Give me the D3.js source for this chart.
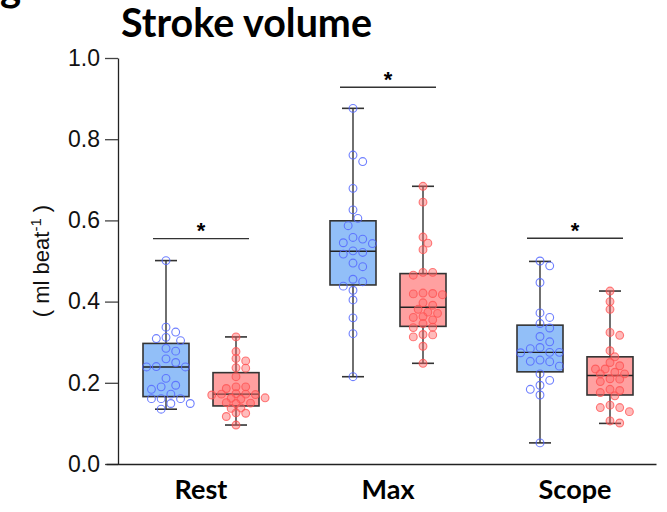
<!DOCTYPE html>
<html>
<head>
<meta charset="utf-8">
<script src="https://cdn.jsdelivr.net/npm/d3@7"></script>
<style>
  html, body { margin: 0; padding: 0; background: #fff; }
  svg { display: block; }
</style>
</head>
<body>
<svg id="chart" width="667" height="512"></svg>
<script>
// ---------------- data ----------------
const categories = ["Rest", "Max", "Scope"];
const seriesNames = ["Group A", "Group B"];
const yTicks = [0.0, 0.2, 0.4, 0.6, 0.8, 1.0];
const titleText = "Stroke volume";
const yLabelText = "( ml beat";
const sigLabels = ["*", "*", "*"];
const sigLevels = [0.555, 0.928, 0.556];

// individual values (Group A = blue, Group B = red)
const restA = [0.501, 0.337, 0.325, 0.312, 0.309, 0.304, 0.285, 0.278, 0.259, 0.239, 0.239, 0.240, 0.250,
  0.211, 0.194, 0.190, 0.184, 0.172, 0.161, 0.161, 0.161, 0.149, 0.149, 0.135];
const restB = [0.313, 0.277, 0.260, 0.254, 0.237, 0.236, 0.215, 0.190, 0.190, 0.186, 0.172, 0.172, 0.171,
  0.173, 0.170, 0.162, 0.163, 0.160, 0.149, 0.150, 0.151, 0.137, 0.138, 0.125, 0.126, 0.117, 0.096];
const maxA = [0.876, 0.761, 0.745, 0.679, 0.626, 0.605, 0.587, 0.554, 0.558, 0.543, 0.545, 0.517, 0.521,
  0.525, 0.495, 0.486, 0.449, 0.455, 0.428, 0.438, 0.404, 0.360, 0.321, 0.215];
const maxB = [0.684, 0.645, 0.559, 0.544, 0.528, 0.472, 0.465, 0.472, 0.419, 0.420, 0.417, 0.421, 0.397,
  0.391, 0.374, 0.381, 0.371, 0.361, 0.355, 0.363, 0.337, 0.346, 0.336, 0.318, 0.319, 0.313, 0.290, 0.248];
const scopeA = [0.500, 0.488, 0.447, 0.372, 0.361, 0.346, 0.335, 0.314, 0.301, 0.284, 0.287, 0.274, 0.275,
  0.275, 0.253, 0.252, 0.256, 0.241, 0.222, 0.206, 0.194, 0.184, 0.170, 0.052];
const scopeB = [0.426, 0.400, 0.381, 0.317, 0.324, 0.279, 0.264, 0.250, 0.242, 0.234, 0.234, 0.226, 0.222,
  0.222, 0.209, 0.210, 0.203, 0.181, 0.184, 0.176, 0.168, 0.145, 0.139, 0.139, 0.129, 0.101, 0.106];

// box statistics per category
const aMin = [0.135, 0.215, 0.052];
const aQ1 = [0.166, 0.441, 0.227];
const aMed = [0.239, 0.524, 0.275];
const aQ3 = [0.297, 0.599, 0.342];
const aMax = [0.501, 0.876, 0.499];
const bMin = [0.096, 0.248, 0.100];
const bQ1 = [0.143, 0.339, 0.170];
const bMed = [0.172, 0.386, 0.218];
const bQ3 = [0.225, 0.469, 0.264];
const bMax = [0.313, 0.684, 0.426];

// ---------------- build ----------------
const pointsA = [restA, maxA, scopeA];
const pointsB = [restB, maxB, scopeB];
const groups = [];
categories.forEach((c, i) => {
  groups.push({cat: c, s: 0, pts: pointsA[i], min: aMin[i], q1: aQ1[i], med: aMed[i], q3: aQ3[i], max: aMax[i]});
  groups.push({cat: c, s: 1, pts: pointsB[i], min: bMin[i], q1: bQ1[i], med: bMed[i], q3: bQ3[i], max: bMax[i]});
});

const svg = d3.select("#chart");
const fontBold = "Lato, 'Open Sans', sans-serif";
const fontAxis = "'Liberation Sans', Arial, sans-serif";

const y = d3.scaleLinear().domain([0, 1]).range([464, 58]);
const x = d3.scalePoint().domain(categories).range([201, 575]);
const xs = d3.scalePoint().domain(seriesNames).range([-35, 35]);
const boxW = 46, capW = 22, r = 3.9;

const style = [
  {box: "#92bff8", pStroke: "rgba(85,105,255,0.85)", pFill: "rgba(255,255,255,0)"},
  {box: "#ffa0a0", pStroke: "rgba(255,80,80,0.75)", pFill: "rgba(255,105,105,0.45)"}
];

// panel letter (cut off at top)
svg.append("text").attr("x", 0).attr("y", 1)
  .attr("font-family", fontBold).attr("font-weight", 700).attr("font-size", 40)
  .text("g");

// title
const title = svg.append("text").attr("x", 121).attr("y", 37)
  .attr("font-family", fontBold).attr("font-weight", 700).attr("font-size", 32)
  .attr("fill", "#000").text(titleText);
{
  const w = title.node().getComputedTextLength();
  title.attr("font-size", 32 * 251 / w);
}

// y axis
const yAxis = svg.append("g").attr("transform", "translate(118,0)")
  .call(d3.axisLeft(y).tickValues(yTicks).tickFormat(d3.format(".1f")).tickSize(13).tickSizeOuter(0).tickPadding(5));
yAxis.select(".domain").attr("stroke", "#222").attr("stroke-width", 1.3);
yAxis.selectAll(".tick line").attr("stroke", "#444").attr("stroke-width", 1.3);
yAxis.selectAll(".tick text").attr("font-family", fontAxis).attr("font-size", 23).attr("fill", "#111");

// x axis line
const xAxis = svg.append("g").attr("transform", "translate(0,464)")
  .call(d3.axisBottom(d3.scaleLinear().domain([0, 1]).range([106, 656])).tickValues([]).tickSizeOuter(0));
xAxis.select(".domain").attr("stroke", "#222").attr("stroke-width", 1.6);

// category labels
svg.selectAll("text.cat").data(categories).join("text").attr("class", "cat")
  .attr("x", d => x(d)).attr("y", 499).attr("text-anchor", "middle")
  .attr("font-family", fontBold).attr("font-weight", 700).attr("font-size", 27)
  .attr("fill", "#000").text(d => d);

// y label
const yl = svg.append("text").attr("transform", `translate(49,${(y(0) + y(1)) / 2}) rotate(-90)`)
  .attr("text-anchor", "middle").attr("font-family", fontAxis).attr("font-size", 22).attr("fill", "#111");
yl.append("tspan").text(yLabelText);
yl.append("tspan").attr("dy", -8).attr("font-size", 15).text("-1");
yl.append("tspan").attr("dy", 8).text(" )");

// boxes
const cx = g => x(g.cat) + xs(seriesNames[g.s]);
const bg = svg.append("g");
groups.forEach(g => {
  const c = cx(g);
  const gg = bg.append("g");
  gg.append("line").attr("x1", c).attr("x2", c).attr("y1", y(g.max)).attr("y2", y(g.min))
    .attr("stroke", "#222").attr("stroke-width", 1.3);
  [g.min, g.max].forEach(v => gg.append("line")
    .attr("x1", c - capW / 2).attr("x2", c + capW / 2).attr("y1", y(v)).attr("y2", y(v))
    .attr("stroke", "#333").attr("stroke-width", 1.6));
  gg.append("rect").attr("x", c - boxW / 2).attr("width", boxW)
    .attr("y", y(g.q3)).attr("height", y(g.q1) - y(g.q3))
    .attr("fill", style[g.s].box).attr("stroke", "#333").attr("stroke-width", 1.6);
  gg.append("line").attr("x1", c - boxW / 2).attr("x2", c + boxW / 2).attr("y1", y(g.med)).attr("y2", y(g.med))
    .attr("stroke", "#222").attr("stroke-width", 1.4);
});

// points with deterministic dodge
function dodge(vals, center, step, minDist) {
  const placed = [];
  const order = vals.map((v, i) => i).sort((a, b) => vals[b] - vals[a]);
  order.forEach(i => {
    const py = y(vals[i]);
    let px = center;
    for (let t = 0; t < 40; t++) {
      const kk = t === 0 ? 0 : (t % 2 ? (t + 1) / 2 : -t / 2);
      const cand = center + kk * step;
      if (placed.every(p => Math.hypot(p.x - cand, p.y - py) >= minDist)) { px = cand; break; }
    }
    placed.push({x: px, y: py, v: vals[i]});
  });
  return placed;
}
const pg = svg.append("g");
groups.forEach(g => {
  const pts = g.s === 0 ? dodge(g.pts, cx(g), 4.85, 9.2) : dodge(g.pts, cx(g), 4.85, 6.5);
  pg.append("g").selectAll("circle").data(pts).join("circle")
    .attr("cx", d => d.x).attr("cy", d => d.y).attr("r", r)
    .attr("fill", style[g.s].pFill).attr("stroke", style[g.s].pStroke).attr("stroke-width", 1.1);
});

// significance
const sg = svg.append("g");
categories.forEach((c, i) => {
  const yy = y(sigLevels[i]);
  sg.append("line").attr("x1", x(c) - 48).attr("x2", x(c) + 48).attr("y1", yy).attr("y2", yy)
    .attr("stroke", "#333").attr("stroke-width", 1.3);
  sg.append("text").attr("x", x(c)).attr("y", yy - 0.5).attr("text-anchor", "middle")
    .attr("font-family", fontAxis).attr("font-weight", 700).attr("font-size", 22).text(sigLabels[i]);
});
</script>
</body>
</html>
